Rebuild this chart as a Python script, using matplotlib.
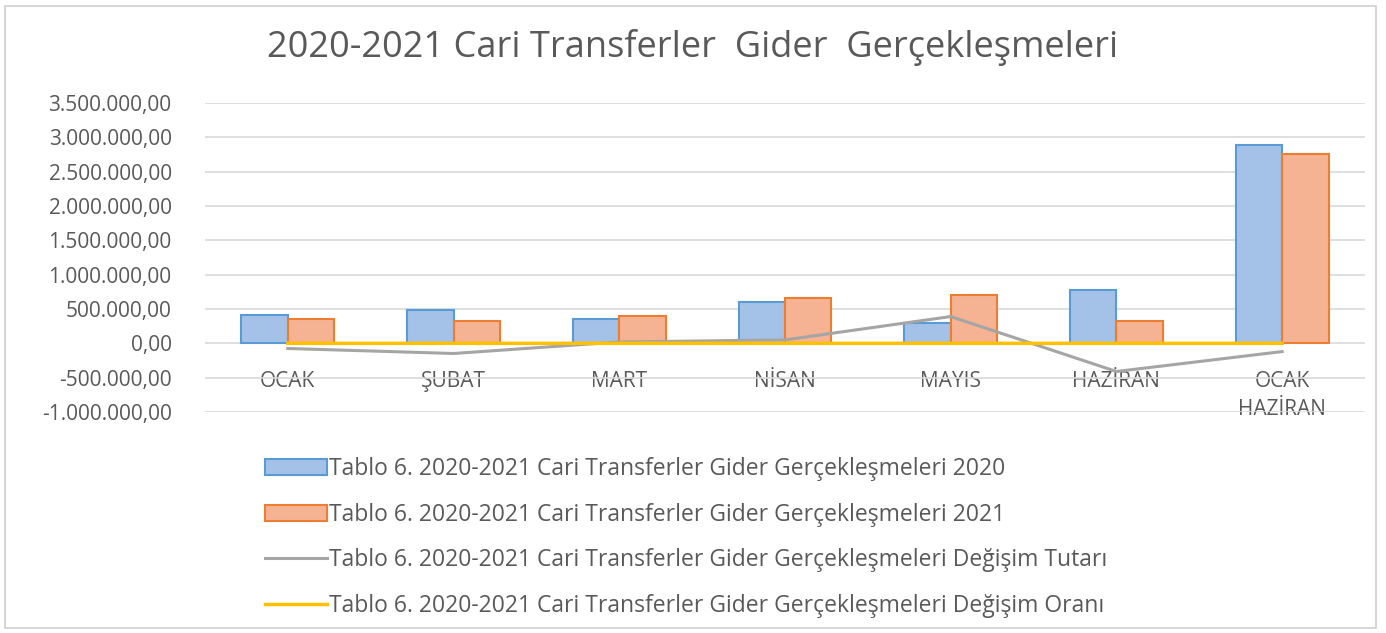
import matplotlib.pyplot as plt
import numpy as np
from matplotlib.patches import Rectangle

# data
months = ['OCAK', 'ŞUBAT', 'MART', 'NİSAN', 'MAYIS', 'HAZİRAN', 'OCAK\nHAZİRAN']
gider_2020 = [412000, 485000, 353000, 603000, 294000, 780000, 2895000]
gider_2021 = [353000, 323000, 397000, 662000, 706000, 323000, 2760000]
degisim_tutari = [-75000, -148000, 20000, 50000, 390000, -410000, -120000]
degisim_orani = [-0.14, -0.33, 0.12, 0.10, 1.40, -0.59, -0.05]

labels = ['Tablo 6. 2020-2021 Cari Transferler Gider Gerçekleşmeleri 2020',
          'Tablo 6. 2020-2021 Cari Transferler Gider Gerçekleşmeleri 2021',
          'Tablo 6. 2020-2021 Cari Transferler Gider Gerçekleşmeleri Değişim Tutarı',
          'Tablo 6. 2020-2021 Cari Transferler Gider Gerçekleşmeleri Değişim Oranı']

txt = '#595959'
plt.rcParams['font.family'] = ['Open Sans', 'DejaVu Sans']

fig = plt.figure(figsize=(13.86, 6.33), dpi=100)
ax = fig.add_axes([205 / 1386, 1 - 412 / 633, 1160 / 1386, 309 / 633])

x = np.arange(len(months))
w = 0.28
b1 = ax.bar(x - w / 2, gider_2020, w, color='#a4c2e8', edgecolor='#5b9bd5',
            linewidth=1.5, label=labels[0], zorder=2)
b2 = ax.bar(x + w / 2, gider_2021, w, color='#f6b394', edgecolor='#ed7d31',
            linewidth=1.5, label=labels[1], zorder=2)
l1, = ax.plot(x, degisim_tutari, color='#a5a5a5', lw=2.2, label=labels[2], zorder=3)
l2, = ax.plot(x, degisim_orani, color='#ffc000', lw=2.5, label=labels[3], zorder=3)

ax.set_xlim(-0.5, len(months) - 0.5)
ax.set_ylim(-1000000, 3500000)
yt = np.arange(-1000000, 3500001, 500000)
ax.set_yticks(yt)
ax.set_yticklabels([f'{v:,.2f}'.replace(',', 'X').replace('.', ',').replace('X', '.')
                    for v in yt])
ax.spines['bottom'].set_position(('data', 0))
ax.set_xticks(x)
ax.set_xticklabels(months, linespacing=1.4)
for s in ax.spines.values():
    s.set_visible(False)
ax.tick_params(axis='both', length=0, labelsize=15, labelcolor=txt)
ax.tick_params(axis='x', pad=20)
ax.tick_params(axis='y', pad=24)
ax.grid(axis='y', color='#d9d9d9', lw=1.2, zorder=0)

fig.text(0.5, 1 - 48 / 633, '2020-2021 Cari Transferler  Gider  Gerçekleşmeleri',
         ha='center', va='center', fontsize=26, color=txt)

fig.legend(handles=[b1, b2, l1, l2], loc='upper left',
           bbox_to_anchor=(256 / 1386, 1 - 448 / 633),
           frameon=False, fontsize=16.5, labelcolor=txt, labelspacing=0.94,
           handlelength=2.7, handletextpad=0.1, borderaxespad=0)

fig.patches.append(Rectangle((5 / 1386, 5 / 633), 1371 / 1386, 622 / 633,
                             transform=fig.transFigure, fill=False,
                             edgecolor='#d0d0d0', lw=1.2))

fig.savefig('out.png', dpi=100)
